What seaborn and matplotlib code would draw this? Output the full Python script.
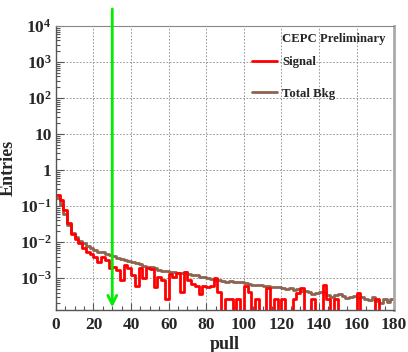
import matplotlib
matplotlib.use("Agg")
import matplotlib.pyplot as plt
import matplotlib.ticker as mticker
import seaborn as sns
import pandas as pd
import numpy as np

# bin edges 0..180, width 2
bin_width = 2
x_max = 180

signal = [0.21, 0.15, 0.08, 0.035, 0.017, 0.012, 0.0095, 0.007, 0.0055, 0.0048,
          0.0038, 0.0028, 0.0039, 0.0033, 0.0019, 0.0021, 0.0017, 0.00087, 0.0023, 0.0019,
          0.0012, 0.0006, 0.0019, 0.0010, 0.0019, 0.0018, 0.00058, 0.0011, 0.0009, 0.00027,
          0.0013, 0.0011, 0.0014, 0.00042, 0.0015, 0.0009, 0.0007, 0.0006, 0.00037, 0.0006,
          0.00058, 0.0006, 0.001, 0.00042, 0, 0.00027, 0.00027, 0, 0.00027, 0,
          0.0006, 0.00042, 0, 0.00027, 0, 0, 0.00055, 0, 0.00027, 0,
          0.00027, 0, 0, 0.00027, 0.0004, 0.00055, 0, 0, 0.00027, 0,
          0, 0.00063, 0.00027, 0, 0.00027, 0, 0, 0, 0, 0,
          0.0004, 0, 0, 0, 0, 0.00027, 0, 0, 0, 0]

total_bkg = [0.17, 0.11, 0.06, 0.03, 0.018, 0.014, 0.011, 0.0092, 0.0078, 0.0068,
             0.006, 0.0055, 0.0052, 0.0048, 0.0044, 0.0041, 0.0037, 0.0034, 0.0031, 0.003,
             0.0028, 0.0026, 0.0024, 0.0022, 0.0021, 0.002, 0.0019, 0.0017, 0.0016, 0.0016,
             0.0015, 0.0015, 0.0014, 0.0014, 0.0015, 0.0013, 0.0012, 0.0012, 0.0011, 0.0011,
             0.001, 0.00095, 0.0009, 0.00087, 0.00085, 0.0008, 0.00082, 0.0008, 0.00076, 0.0008,
             0.00074, 0.0007, 0.00063, 0.00063, 0.00065, 0.0006, 0.00062, 0.00058, 0.00056, 0.00058,
             0.00052, 0.0005, 0.00052, 0.00048, 0.0005, 0.00045, 0.00044, 0.00042, 0.00037, 0.0004,
             0.00042, 0.00042, 0.00035, 0.00031, 0.00034, 0.00036, 0.00033, 0.00029, 0.00031, 0.00033,
             0.00028, 0.0003, 0.00027, 0.00025, 0.0003, 0.00024, 0.00021, 0.00026, 0.00022, 0.00027]

cut_value = 30

y_tick_vals = [1e-3, 1e-2, 1e-1, 1, 10, 1e2, 1e3, 1e4]
y_tick_labels = ["$10^{-3}$", "$10^{-2}$", "$10^{-1}$", "1", "10", "$10^{2}$", "$10^{3}$", "$10^{4}$"]
x_tick_vals = [0, 20, 40, 60, 80, 100, 120, 140, 160, 180]

sns.set_style("ticks")
plt.rcParams['font.family'] = ['Liberation Serif', 'DejaVu Serif']
plt.rcParams['font.weight'] = 'bold'
plt.rcParams['mathtext.fontset'] = 'custom'
plt.rcParams['mathtext.rm'] = 'Liberation Serif:bold'
plt.rcParams['mathtext.it'] = 'Liberation Serif:bold'
plt.rcParams['mathtext.bf'] = 'Liberation Serif:bold'

edges = np.arange(0, x_max + bin_width, bin_width)
df = pd.DataFrame({
    'pull': np.concatenate([edges, edges]),
    'entries': signal + [signal[-1]] + total_bkg + [total_bkg[-1]],
    'sample': ['Signal'] * len(edges) + ['Total Bkg'] * len(edges),
})

fig = plt.figure(figsize=(4.08, 3.52), dpi=100)
ax = fig.add_axes([0.137, 0.119, 0.829, 0.807])
ax.set_yscale('log')

sns.lineplot(data=df, x='pull', y='entries', hue='sample', estimator=None,
             palette={'Signal': '#ff0000', 'Total Bkg': '#8c6450'},
             hue_order=['Total Bkg', 'Signal'],
             drawstyle='steps-post', linewidth=2, ax=ax, legend=False)

ax.set_xlim(0, x_max)
ax.set_ylim(1.3e-4, 1e4)

ax.yaxis.set_major_locator(mticker.FixedLocator(y_tick_vals))
ax.yaxis.set_major_formatter(mticker.FixedFormatter(y_tick_labels))
ax.yaxis.set_minor_locator(mticker.LogLocator(base=10, subs=np.arange(2, 10)))
ax.yaxis.set_minor_formatter(mticker.NullFormatter())
ax.xaxis.set_major_locator(mticker.FixedLocator(x_tick_vals))
ax.xaxis.set_minor_locator(mticker.MultipleLocator(5))

ax.tick_params(which='both', direction='in', color='#555555', labelsize=12.5)
ax.tick_params(which='major', length=6, width=0.8)
ax.tick_params(which='minor', length=3, width=0.8)
ax.tick_params(axis='x', which='major', length=5, pad=5)
ax.tick_params(axis='y', which='major', pad=3)

ax.grid(True, which='major', color='#888888', linestyle=(0, (2, 2)), linewidth=0.6)

for side in ['left', 'bottom']:
    ax.spines[side].set_color('#555555')
    ax.spines[side].set_linewidth(1)
ax.spines['top'].set_color('#888888')
ax.spines['right'].set_color('#aaaaaa')
ax.spines['right'].set_linewidth(2)

ax.set_xlabel('pull', fontsize=13, fontweight='bold', labelpad=2)
ax.set_ylabel('Entries', fontsize=13, fontweight='bold', labelpad=2)

# legend
leg_handles = [plt.Line2D([], [], color='#ff0000', lw=2),
               plt.Line2D([], [], color='#8c6450', lw=2)]
ax.legend(leg_handles, ['Signal', 'Total Bkg'], loc='upper left',
          bbox_to_anchor=(0.545, 0.935), frameon=False, handlelength=2.0,
          handletextpad=0.4, labelspacing=1.55, prop={'weight': 'bold', 'size': 9.2})
ax.text(0.975, 0.975, 'CEPC Preliminary', transform=ax.transAxes, ha='right', va='top',
        fontsize=9.2, fontweight='bold')

# cut arrow
ax.annotate('', xy=(cut_value, 1.3e-4), xytext=(cut_value, 1.07),
            xycoords=('data', 'data'), textcoords=('data', 'axes fraction'),
            arrowprops=dict(arrowstyle='->', color='#00ee00', lw=2,
                            mutation_scale=16), annotation_clip=False)

plt.savefig('out.png', dpi=100)
